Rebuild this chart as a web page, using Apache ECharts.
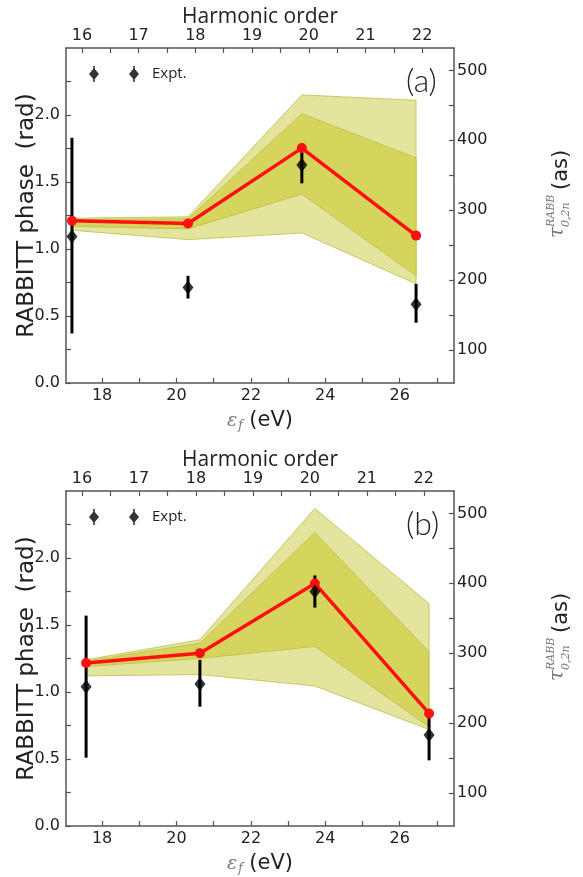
<!DOCTYPE html>
<html>
<head>
<meta charset="utf-8">
<script src="https://cdn.jsdelivr.net/npm/echarts@6/dist/echarts.min.js"></script>
<style>html,body{margin:0;padding:0;background:#fff}#c{width:583px;height:877px}</style>
</head>
<body>
<div id="c"></div>
<script>
// ---------- DATA ----------
// Panel (a)
const aX        = [17.19, 20.31, 23.37, 26.44];
const aTheory   = [1.21, 1.19, 1.753, 1.10];
const aExpt     = [1.094, 0.713, 1.627, 0.587];
const aErrLo    = [0.37, 0.63, 1.49, 0.45];
const aErrHi    = [1.83, 0.80, 1.72, 0.74];
const aOuterUp  = [1.23, 1.24, 2.15, 2.11];
const aOuterLo  = [1.14, 1.07, 1.12, 0.74];
const aInnerUp  = [1.22, 1.225, 2.01, 1.68];
const aInnerLo  = [1.17, 1.15, 1.41, 0.80];
// Panel (b)
const bX        = [17.57, 20.63, 23.72, 26.79];
const bTheory   = [1.216, 1.29, 1.81, 0.84];
const bExpt     = [1.04, 1.06, 1.75, 0.68];
const bErrLo    = [0.51, 0.89, 1.63, 0.49];
const bErrHi    = [1.57, 1.24, 1.87, 0.82];
const bOuterUp  = [1.24, 1.39, 2.37, 1.66];
const bOuterLo  = [1.12, 1.13, 1.045, 0.72];
const bInnerUp  = [1.23, 1.365, 2.19, 1.30];
const bInnerLo  = [1.19, 1.25, 1.34, 0.74];
// Ticks
const energyLabels   = [18, 20, 22, 24, 26];
const energyTicks    = [17, 18, 19, 20, 21, 22, 23, 24, 25, 26, 27];
const harmonicLabels = [16, 17, 18, 19, 20, 21, 22];
const harmonicTicks  = [16, 16.5, 17, 17.5, 18, 18.5, 19, 19.5, 20, 20.5, 21, 21.5, 22];
const phaseLabels    = [0, 0.5, 1.0, 1.5, 2.0];
const phaseTicks     = [0, 0.25, 0.5, 0.75, 1.0, 1.25, 1.5, 1.75, 2.0, 2.25];
const delayLabels    = [100, 200, 300, 400, 500];
const delayTicks     = [100, 150, 200, 250, 300, 350, 400, 450, 500];

// ---------- STYLE ----------
const AX = '#555';
const TXT = '#222';
const FONT = 'DejaVu Sans';

const chart = echarts.init(document.getElementById('c'), null, {renderer: 'canvas'});

const grids = [], xAxes = [], yAxes = [], series = [], legends = [], titles = [], graphics = [];

function band(xs, up, lo, fill, xi, yi, z) {
  return {
    type: 'custom', xAxisIndex: xi, yAxisIndex: yi, z: z, silent: true,
    data: xs.map((v, i) => [v, up[i], lo[i]]),
    encode: {x: 0, y: [1, 2]},
    renderItem: function (params, api) {
      if (params.dataIndex !== 0) return null;
      const pts = [];
      for (let i = 0; i < xs.length; i++) pts.push(api.coord([xs[i], up[i]]));
      for (let i = xs.length - 1; i >= 0; i--) pts.push(api.coord([xs[i], lo[i]]));
      return {type: 'polygon', shape: {points: pts},
              style: {fill: fill, stroke: '#bfbe48', lineWidth: 0.8}};
    }
  };
}

function panel(k, top, xs, th, ex, elo, ehi, oU, oL, iU, iL, label, hMin, hMax) {
  const xi = k * 2, yi = k * 2;
  grids.push({left: 66, top: top, width: 388, height: 335, containLabel: false});
  const tickBase = {show: true, inside: true, length: 5, lineStyle: {color: AX, width: 1.2}};
  const lineBase = {show: true, onZero: false, lineStyle: {color: AX, width: 1.5}};
  xAxes.push({
    type: 'value', gridIndex: k, position: 'bottom', min: 17.03, max: 27.46,
    axisLine: lineBase, splitLine: {show: false},
    axisTick: Object.assign({}, tickBase, {customValues: energyTicks}),
    axisLabel: {customValues: energyLabels, color: TXT, fontSize: 16, fontFamily: FONT, margin: 5},
    name: '{e|ε}{f|f}{t| (eV)}', nameLocation: 'middle', nameGap: 27,
    nameTextStyle: {rich: {
      e: {fontFamily: 'DejaVu Serif', fontStyle: 'italic', fontSize: 19, color: '#777'},
      f: {fontFamily: 'DejaVu Serif', fontStyle: 'italic', fontSize: 12, color: '#777', padding: [10, 0, 0, 1]},
      t: {fontFamily: FONT, fontSize: 21, color: TXT}
    }}
  });
  xAxes.push({
    type: 'value', gridIndex: k, position: 'top', min: hMin, max: hMax,
    axisLine: lineBase, splitLine: {show: false},
    axisTick: Object.assign({}, tickBase, {customValues: harmonicTicks}),
    axisLabel: {customValues: harmonicLabels, color: TXT, fontSize: 16, fontFamily: FONT, margin: 4},
    name: 'Harmonic order', nameLocation: 'middle', nameGap: 19,
    nameTextStyle: {fontSize: 21, fontFamily: 'Open Sans', color: TXT}
  });
  yAxes.push({
    type: 'value', gridIndex: k, position: 'left', min: 0, max: 2.5,
    axisLine: lineBase, splitLine: {show: false},
    axisTick: Object.assign({}, tickBase, {customValues: phaseTicks}),
    axisLabel: {customValues: phaseLabels, color: TXT, fontSize: 16, fontFamily: FONT, margin: 6,
                formatter: v => v.toFixed(1)},
    name: 'RABBITT phase  (rad)', nameLocation: 'middle', nameGap: 27, nameMoveOverlap: false,
    nameTextStyle: {fontSize: 23, fontFamily: FONT, color: TXT}
  });
  yAxes.push({
    type: 'value', gridIndex: k, position: 'right', min: 53, max: 532,
    axisLine: lineBase, splitLine: {show: false},
    axisTick: Object.assign({}, tickBase, {customValues: delayTicks}),
    axisLabel: {customValues: delayLabels, color: TXT, fontSize: 16, fontFamily: FONT, margin: 3}
  });

  series.push(band(xs, oU, oL, '#e3e49d', xi, yi, 1));
  series.push(band(xs, iU, iL, '#d5d45c', xi, yi, 2));
  series.push({
    type: 'custom', xAxisIndex: xi, yAxisIndex: yi, z: 3, silent: true,
    data: xs.map((v, i) => [v, elo[i], ehi[i]]),
    encode: {x: 0, y: [1, 2]},
    renderItem: function (params, api) {
      const p0 = api.coord([api.value(0), api.value(1)]);
      const p1 = api.coord([api.value(0), api.value(2)]);
      return {type: 'line', shape: {x1: p0[0], y1: p0[1], x2: p1[0], y2: p1[1]},
              style: {stroke: '#000', lineWidth: 3}};
    }
  });
  series.push({
    type: 'line', xAxisIndex: xi, yAxisIndex: yi, z: 4,
    data: xs.map((v, i) => [v, th[i]]),
    symbol: 'circle', symbolSize: 10,
    lineStyle: {color: '#ff1010', width: 3.5},
    itemStyle: {color: '#ff1010'}
  });
  series.push({
    name: 'Expt.', type: 'scatter', xAxisIndex: xi, yAxisIndex: yi, z: 5,
    data: xs.map((v, i) => [v, ex[i]]),
    symbol: 'diamond', symbolSize: [11, 14],
    itemStyle: {color: '#000'}
  });

  legends.push({
    data: ['Expt.'], left: 84, top: top + 13, orient: 'horizontal',
    itemWidth: 50, itemHeight: 16,
    icon: 'path://M4.2 0 H5.8 V3 L10 8 L5.8 13 V16 H4.2 V13 L0 8 L4.2 3 Z M44.2 0 H45.8 V3 L50 8 L45.8 13 V16 H44.2 V13 L40 8 L44.2 3 Z',
    textStyle: {fontSize: 15, fontFamily: 'Open Sans', color: TXT, padding: [0, 0, 0, 8]},
    selectedMode: false
  });
  titles.push({
    text: label, left: 401, top: top + 13,
    textStyle: {fontSize: 32, fontWeight: 300, fontFamily: 'Lato', color: TXT}
  });
  graphics.push({
    type: 'group', x: 562, y: top + 150, rotation: Math.PI / 2,
    children: [
      {type: 'text', x: -40, y: -4, style: {text: 'τ', font: 'italic 20px "DejaVu Serif"', fill: '#777', verticalAlign: 'middle'}},
      {type: 'text', x: -29, y: -11, style: {text: 'RABB', font: 'italic 11px "DejaVu Serif"', fill: '#777', verticalAlign: 'middle'}},
      {type: 'text', x: -29, y: 4, style: {text: '0,2n', font: 'italic 11px "DejaVu Serif"', fill: '#777', verticalAlign: 'middle'}},
      {type: 'text', x: 8, y: 0, style: {text: '(as)', font: '21px "DejaVu Sans"', fill: TXT, verticalAlign: 'middle'}}
    ]
  });
}

panel(0, 48, aX, aTheory, aExpt, aErrLo, aErrHi, aOuterUp, aOuterLo, aInnerUp, aInnerLo, '(a)', 15.72, 22.56);
panel(1, 491, bX, bTheory, bExpt, bErrLo, bErrHi, bOuterUp, bOuterLo, bInnerUp, bInnerLo, '(b)', 15.72, 22.53);

chart.setOption({
  backgroundColor: '#fff',
  animation: false,
  title: titles,
  legend: legends,
  grid: grids,
  xAxis: xAxes,
  yAxis: yAxes,
  series: series,
  graphic: graphics
});
</script>
</body>
</html>
